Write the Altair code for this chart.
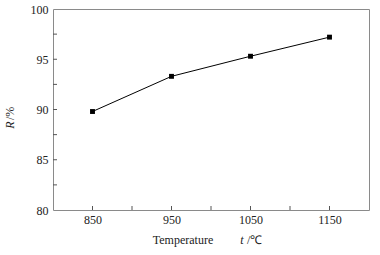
import altair as alt
import pandas as pd

temps = [850, 950, 1050, 1150]
rates = [89.8, 93.3, 95.3, 97.2]
x_ticks = [850, 900, 950, 1000, 1050, 1100, 1150]
y_ticks = [82.5, 85, 87.5, 90, 92.5, 95, 97.5]
x_labels = [850, 950, 1050, 1150]
y_labels = [80, 85, 90, 95, 100]

FONT = "Liberation Serif"
W, H = 316, 201
TL = 4

df = pd.DataFrame({"t": temps, "R": rates})
xs = alt.Scale(domain=[800, 1200], nice=False, zero=False)
ys = alt.Scale(domain=[80, 100], nice=False, zero=False)

xaxis = alt.Axis(values=x_labels, title=None, domain=False, ticks=False, grid=False,
                 labelFont=FONT, labelFontSize=12, labelColor="#222", labelPadding=4,
                 format="d")
yaxis = alt.Axis(values=y_labels, title=None, domain=False, ticks=False, grid=False,
                 labelFont=FONT, labelFontSize=12, labelColor="#222", labelPadding=5,
                 format="d")

line = alt.Chart(df).mark_line(color="black", strokeWidth=1).encode(
    x=alt.X("t:Q", scale=xs, axis=xaxis),
    y=alt.Y("R:Q", scale=ys, axis=yaxis),
)
pts = alt.Chart(df).mark_point(shape="square", filled=True, color="black", size=24, opacity=1).encode(
    x=alt.X("t:Q", scale=xs),
    y=alt.Y("R:Q", scale=ys),
)

xt = alt.Chart(pd.DataFrame({"v": x_ticks})).mark_rule(color="#555", strokeWidth=1).encode(
    x=alt.X("v:Q", scale=xs), y=alt.value(H), y2=alt.value(H - TL))
yt = alt.Chart(pd.DataFrame({"v": y_ticks})).mark_rule(color="#555", strokeWidth=1).encode(
    y=alt.Y("v:Q", scale=ys), x=alt.value(0), x2=alt.value(TL))

one = pd.DataFrame({"a": [0]})
ytitle_r = alt.Chart(one).mark_text(text="R", font=FONT, fontSize=12, fontStyle="italic",
                                    angle=270, align="center", baseline="middle", color="#222"
                                    ).encode(x=alt.value(-43), y=alt.value(116))
ytitle_u = alt.Chart(one).mark_text(text="/%", font=FONT, fontSize=12,
                                    angle=270, align="left", baseline="middle", color="#222"
                                    ).encode(x=alt.value(-43), y=alt.value(111))
xtitle_a = alt.Chart(one).mark_text(text="Temperature", font=FONT, fontSize=12,
                                    align="center", baseline="middle", color="#222"
                                    ).encode(x=alt.value(130), y=alt.value(231))
xtitle_t = alt.Chart(one).mark_text(text="t", font=FONT, fontSize=12, fontStyle="italic",
                                    align="center", baseline="middle", color="#222"
                                    ).encode(x=alt.value(189), y=alt.value(231))
xtitle_u = alt.Chart(one).mark_text(text="/℃", font=FONT, fontSize=12,
                                    align="left", baseline="middle", color="#222"
                                    ).encode(x=alt.value(194), y=alt.value(231))

chart = alt.layer(xt, yt, line, pts, ytitle_r, ytitle_u, xtitle_a, xtitle_t, xtitle_u).properties(
    width=W, height=H,
    autosize=alt.AutoSizeParams(type="none"),
    padding={"left": 53, "top": 9, "right": 11, "bottom": 45},
    background="white",
).configure_view(stroke="#8a8a8a", strokeWidth=1)

chart.save("out.html", embed_options={"renderer": "svg", "actions": False})
